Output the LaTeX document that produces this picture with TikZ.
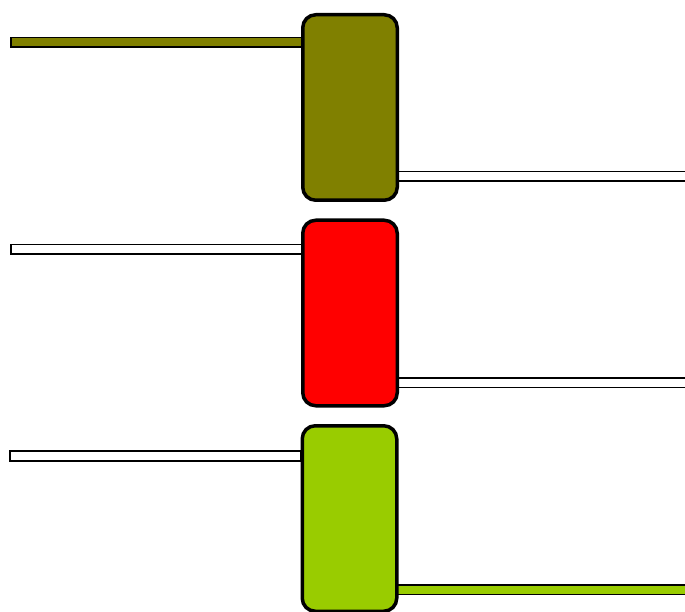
\documentclass[tikz,border=0pt]{standalone}
\usepackage{tikz}
\usetikzlibrary{calc,positioning}
\definecolor{CellOlive}{HTML}{808000}
\definecolor{CellRed}{HTML}{FF0000}
\definecolor{CellLime}{HTML}{99CC00}

\tikzset{
  cellbox/.style={draw=black, line width=3.5pt, rounded corners=13pt,
    minimum width=94.5pt, minimum height=185.5pt, inner sep=0pt},
  leadbar/.style={draw=black, line width=1.5pt}
}

\begin{document}
\begin{tikzpicture}[x=1pt,y=-1pt]
  \useasboundingbox (0,0) rectangle (685,612);
  \clip (0,0) rectangle (685,612);
  % leads, drawn first so the cells sit on top
  \coordinate (oliveIn) at (10.75,37.75);
  \coordinate (redIn) at (10.75,244.75);
  \coordinate (limeIn) at (9.75,450.75);
  \draw[leadbar, fill=CellOlive] (oliveIn) rectangle (302,47.25);
  \draw[leadbar, fill=white] ($(302,171.75)$) rectangle (700,181.25);
  \draw[leadbar, fill=white] (redIn) rectangle (302,254.25);
  \draw[leadbar, fill=white] ($(302,377.75)$) rectangle (700,387.25);
  \draw[leadbar, fill=white] (limeIn) rectangle (301,460.75);
  \draw[leadbar, fill=CellLime] ($(302,584.75)$) rectangle (700,594.25);
  % cells
  \node[cellbox, fill=CellOlive] (olive) at (350,107.5) {};
  \node[cellbox, fill=CellRed] (red) at (350,313) {};
  \node[cellbox, fill=CellLime] (lime) at (349.5,518.5) {};
\end{tikzpicture}
\end{document}
